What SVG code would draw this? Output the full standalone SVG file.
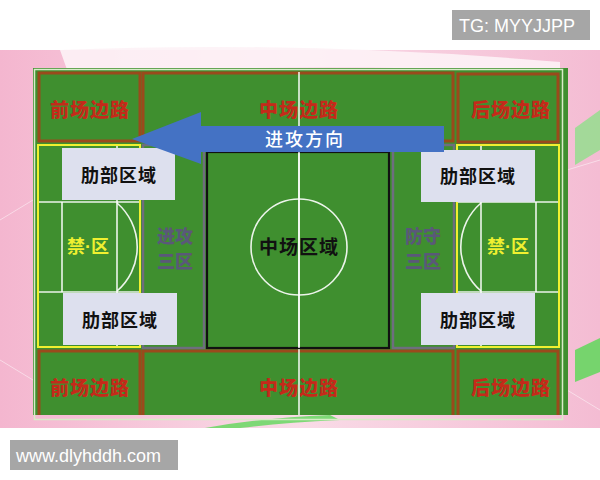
<svg xmlns="http://www.w3.org/2000/svg" width="600" height="480" viewBox="0 0 600 480">
  <defs>
    <style>
      .wm { fill: #a6a6a6; }
      .wmt { font-family: "Liberation Sans", Arial, sans-serif; font-size: 18px; fill: #ffffff; }
      .field { fill: #3f8f2f; }
      .wing { fill: #3f8f2f; stroke: #9a4a1c; stroke-width: 3; }
      .wingt { font-family: "Noto Sans CJK SC", sans-serif; font-weight: 900; font-size: 19px; fill: #c42a1a; text-anchor: middle; letter-spacing: 1px; }
      .line { stroke: #ffffff; stroke-width: 1.6; fill: none; opacity: 0.9; }
      .box18 { fill: #3f8f2f; stroke: #f0f030; stroke-width: 2; }
      .third { fill: none; stroke: #6e6e7e; stroke-width: 2.5; }
      .thirdt { font-family: "Noto Sans CJK SC", sans-serif; font-weight: 900; font-size: 18px; fill: #5f4f86; text-anchor: middle; opacity: 0.85; }
      .half { fill: none; stroke: #111111; stroke-width: 2.2; }
      .rib { fill: #dde0ee; }
      .ribt { font-family: "Noto Sans CJK SC", sans-serif; font-weight: 700; font-size: 18px; fill: #111111; text-anchor: middle; letter-spacing: 1px; }
      .pent { font-family: "Noto Sans CJK SC", sans-serif; font-weight: 700; font-size: 18px; fill: #f0f030; text-anchor: middle; }
      .dot { font-family: "Liberation Sans", Arial, sans-serif; font-weight: 700; }
      .midt { font-family: "Noto Sans CJK SC", sans-serif; font-weight: 700; font-size: 19px; fill: #111111; text-anchor: middle; letter-spacing: 1px; }
      .arrowt { font-family: "Noto Sans CJK SC", sans-serif; font-weight: 500; font-size: 18px; fill: #ffffff; text-anchor: middle; letter-spacing: 2px; }
    </style>
    <linearGradient id="bg" x1="0" y1="0" x2="1" y2="0">
      <stop offset="0" stop-color="#f4b6cf"/>
      <stop offset="0.5" stop-color="#f9dbe7"/>
      <stop offset="1" stop-color="#f4bcd3"/>
    </linearGradient>
    <clipPath id="pitchClip">
      <rect x="33" y="68" width="535" height="347"/>
    </clipPath>
  </defs>

  <!-- background -->
  <rect x="0" y="0" width="600" height="480" fill="#ffffff"/>
  <rect x="0" y="50" width="600" height="378" fill="url(#bg)"/>
  <path d="M60,50 Q300,40 560,62 L560,75 Q300,58 70,78 Z" fill="#fdf2f6" opacity="0.9"/>
  <path d="M575,128 L600,110 L600,150 L575,165 Z" fill="#8fe08a" opacity="0.8"/>
  <path d="M575,350 L600,338 L600,372 L575,382 Z" fill="#5fd85a" opacity="0.85"/>
  <path d="M205,428 Q260,418 330,415 L340,420 Q280,423 240,428 Z" fill="#5fd85a" opacity="0.8"/>
  <path d="M0,220 L33,200 M0,360 L33,380 M567,170 L600,160 M567,390 L600,410" stroke="#ffffff" stroke-width="0.8" opacity="0.6"/>

  <!-- watermarks -->
  <g id="tg-label">
    <rect class="wm" x="452" y="10" width="138" height="30"/>
    <text class="wmt" x="459" y="32">TG: MYYJJPP</text>
  </g>
  <g id="site-label">
    <rect class="wm" x="10" y="440" width="168" height="30"/>
    <text class="wmt" x="16" y="462">www.dlyhddh.com</text>
  </g>

  <!-- pitch -->
  <g id="pitch">
    <rect class="field" x="33" y="68" width="535" height="347"/>
    <rect x="34.5" y="69.5" width="528" height="350" fill="none" stroke="#d8ecc8" stroke-width="1.5"/>
  </g>

  <g clip-path="url(#pitchClip)">
    <!-- wings -->
    <g id="front-wing-top">
      <rect class="wing" x="39" y="73" width="101" height="68"/>
      <text class="wingt" x="90" y="117">前场边路</text>
    </g>
    <g id="mid-wing-top">
      <rect class="wing" x="143" y="73" width="310" height="68"/>
      <text class="wingt" x="299" y="117">中场边路</text>
    </g>
    <g id="back-wing-top">
      <rect class="wing" x="458" y="74" width="100" height="68"/>
      <text class="wingt" x="511" y="117">后场边路</text>
    </g>
    <g id="front-wing-bottom">
      <rect class="wing" x="39" y="351" width="101" height="70"/>
      <text class="wingt" x="90" y="395">前场边路</text>
    </g>
    <g id="mid-wing-bottom">
      <rect class="wing" x="143" y="351" width="310" height="70"/>
      <text class="wingt" x="299" y="395">中场边路</text>
    </g>
    <g id="back-wing-bottom">
      <rect class="wing" x="458" y="351" width="100" height="70"/>
      <text class="wingt" x="511" y="395">后场边路</text>
    </g>

    <!-- halfway line -->
    <line class="line" x1="299" y1="72" x2="299" y2="415"/>
  </g>

  <!-- attacking third -->
  <g id="attack-third">
    <rect class="third" x="143" y="145" width="61" height="203"/>
    <text class="thirdt" x="175" y="243">进攻</text>
    <text class="thirdt" x="175" y="268">三区</text>
  </g>
  <!-- defensive third -->
  <g id="defense-third">
    <rect class="third" x="393" y="145" width="61" height="203"/>
    <text class="thirdt" x="423" y="243">防守</text>
    <text class="thirdt" x="423" y="268">三区</text>
  </g>

  <!-- midfield zone -->
  <g id="midfield-zone">
    <rect class="half" x="207" y="152" width="182" height="196"/>
    <line class="line" x1="299" y1="152" x2="299" y2="348"/>
    <circle class="line" cx="299" cy="247" r="48"/>
    <text class="midt" x="299" y="254">中场区域</text>
  </g>

  <!-- left penalty area -->
  <g id="left-box">
    <rect class="box18" x="38" y="145" width="102" height="202"/>
    <line class="line" x1="117" y1="146" x2="117" y2="346"/>
    <line class="line" x1="39" y1="202" x2="139" y2="202"/>
    <line class="line" x1="39" y1="292" x2="139" y2="292"/>
    <line class="line" x1="62" y1="202" x2="62" y2="292"/>
    <path class="line" d="M117,203 A58,58 0 0 1 117,291"/>
    <text class="pent" x="88" y="253">禁<tspan class="dot">·</tspan>区</text>
  </g>
  <!-- right penalty area -->
  <g id="right-box">
    <rect class="box18" x="457" y="145" width="102" height="202"/>
    <line class="line" x1="481" y1="146" x2="481" y2="346"/>
    <line class="line" x1="458" y1="202" x2="558" y2="202"/>
    <line class="line" x1="458" y1="292" x2="558" y2="292"/>
    <line class="line" x1="536" y1="202" x2="536" y2="292"/>
    <path class="line" d="M481,203 A58,58 0 0 0 481,291"/>
    <text class="pent" x="508" y="253">禁<tspan class="dot">·</tspan>区</text>
  </g>

  <!-- rib zones -->
  <g id="rib-top-left">
    <rect class="rib" x="62" y="148" width="113" height="52"/>
    <text class="ribt" x="119" y="182">肋部区域</text>
  </g>
  <g id="rib-bottom-left">
    <rect class="rib" x="63" y="293" width="114" height="52"/>
    <text class="ribt" x="120" y="327">肋部区域</text>
  </g>
  <g id="rib-top-right">
    <rect class="rib" x="421" y="150" width="114" height="52"/>
    <text class="ribt" x="478" y="183">肋部区域</text>
  </g>
  <g id="rib-bottom-right">
    <rect class="rib" x="421" y="293" width="114" height="52"/>
    <text class="ribt" x="478" y="327">肋部区域</text>
  </g>

  <!-- connectors -->
  <g id="connectors">
    <g id="attack-direction">
      <polygon points="132,139 201,112 201,126 444,126 444,152 201,152 201,164" fill="#4472c4"/>
      <text class="arrowt" x="305" y="146">进攻方向</text>
    </g>
  </g>
</svg>
